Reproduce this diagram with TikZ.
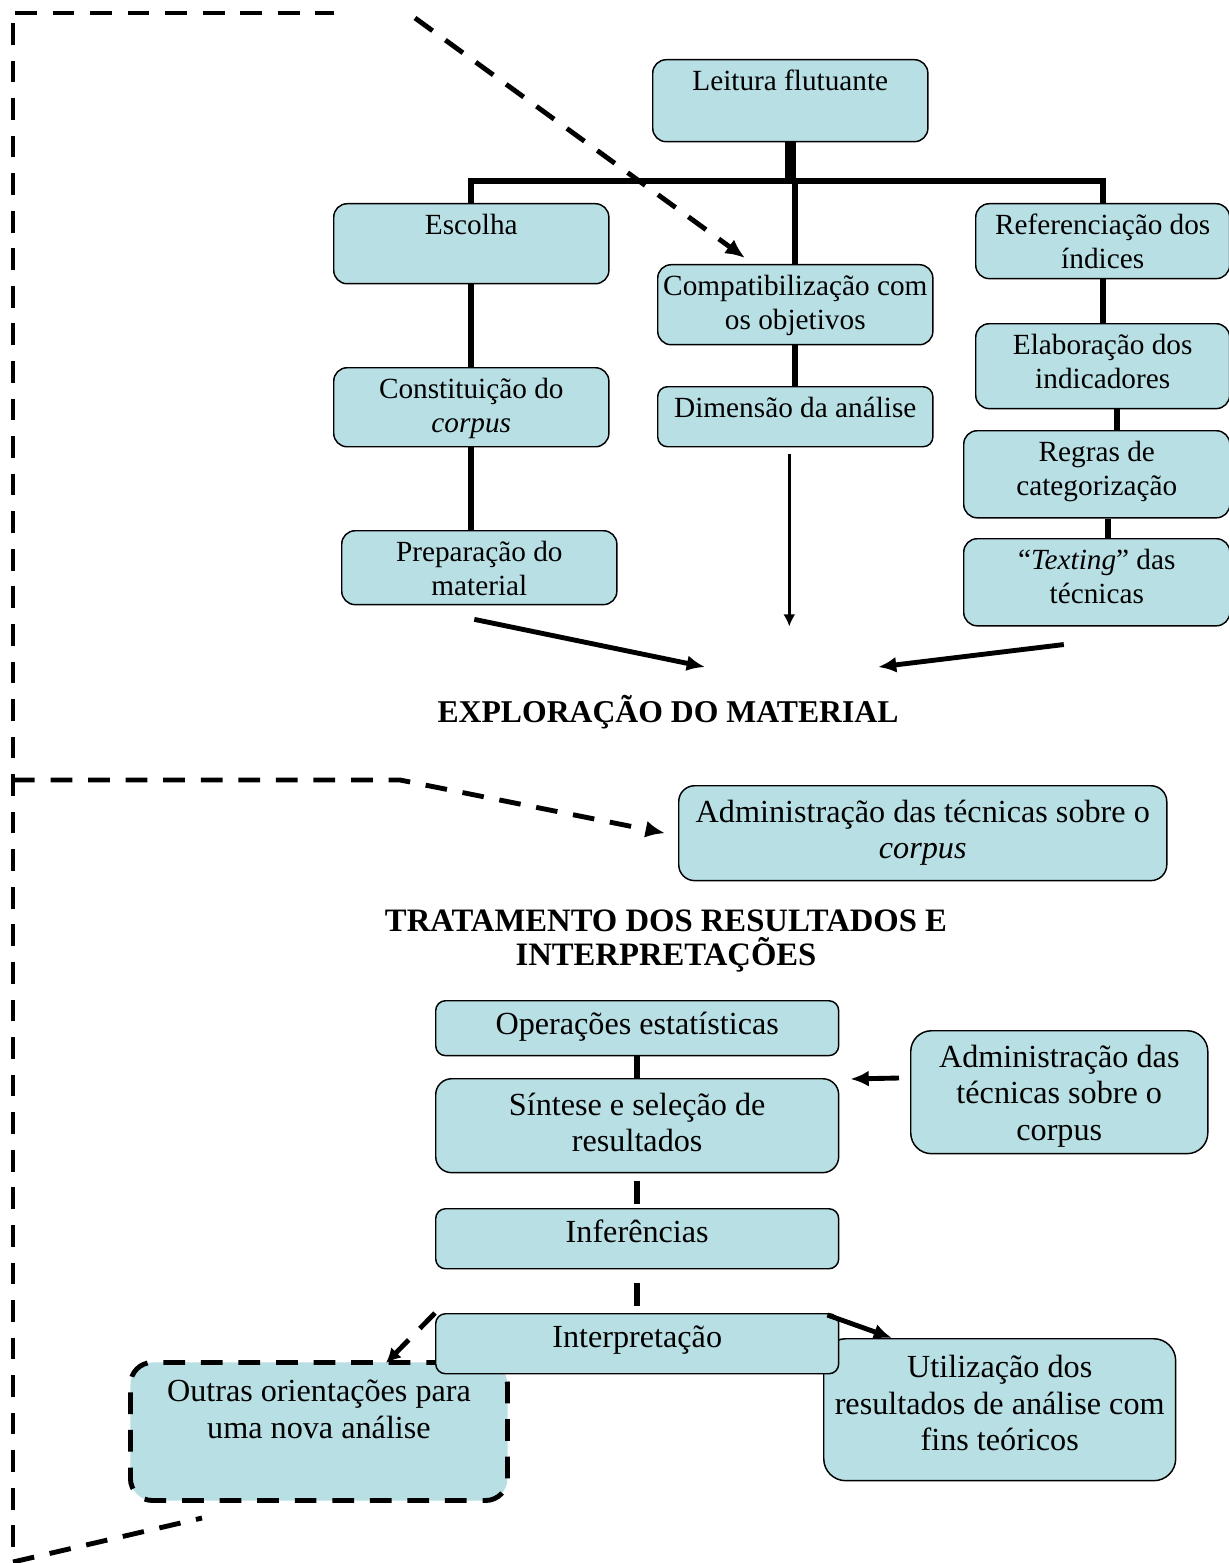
\documentclass[tikz,border=0pt]{standalone}
\usepackage{fontspec}
\setmainfont{Liberation Serif}
\usetikzlibrary{arrows.meta}
\definecolor{boxcyan}{RGB}{184,223,228}

\begin{document}
\begin{tikzpicture}[x=0.41pt,y=-0.41pt]

  \useasboundingbox (0,0) rectangle (1229,1563);

  % node styles
  \tikzstyle{Box}=[
  anchor=north west,
  draw,line width=0.6pt,
  fill=boxcyan,
  font=\fontsize{12}{14}\selectfont,
  align=flush center,
  text height=12.7pt,
  inner sep=0pt,
  shape=rectangle,rounded corners=5.5pt]

  \tikzstyle{BigBox}=[Box,font=\fontsize{13.2}{15}\selectfont,text height=15pt]

  \tikzstyle{Head}=[font=\fontsize{13}{13.5}\selectfont\bfseries,align=center]

  % line styles
  \tikzstyle{Link}=[line width=2.5pt]
  \tikzstyle{Stem}=[line width=4.6pt]
  \tikzstyle{Arrow}=[line width=2pt,-{Latex[length=7.5pt,width=6.5pt]}]
  \tikzstyle{Thin}=[line width=1.2pt,-{Latex[length=5pt,width=5pt]}]
  \tikzstyle{DashLine}=[line width=2pt,dash pattern=on 8.9pt off 6.5pt]

  \node[Box,text width=112.8pt,text depth=20.9pt] (L)  at (652,59)  {Leitura flutuante};

  \node[Box,text width=112.8pt,text depth=20.1pt] (E1) at (333,203) {Escolha};
  \node[Box,text width=112.8pt,text depth=19.7pt] (E2) at (333,367) {Constituição do\\\textit{corpus}};
  \node[Box,text width=112.8pt,text depth=17.6pt] (E3) at (341,530) {Preparação do\\material};

  \node[Box,text width=112.8pt,text depth=20.1pt] (C1) at (657,264) {Compatibilização com\\os objetivos};
  \node[Box,text width=112.8pt,text depth=11.9pt,rounded corners=4pt] (C2) at (657,386) {Dimensão da análise};

  \node[Box,text width=104.1pt,text depth=18.0pt] (R1) at (975,203) {Referenciação dos\\índices};
  \node[Box,text width=104.1pt,text depth=22.1pt] (R2) at (975,323) {Elaboração dos\\indicadores};
  \node[Box,text width=109.1pt,text depth=23.0pt] (R3) at (963,430) {Regras de\\categorização};
  \node[Box,text width=109.1pt,text depth=23.0pt] (R4) at (963,538) {“\textit{Texting}” das\\técnicas};

  \node[Head] (M1) at (668,712) {EXPLORAÇÃO DO MATERIAL};

  \node[BigBox,text width=200.1pt,text depth=23.9pt,rounded corners=6.5pt] (A) at (678,785) {Administração das técnicas sobre o\\\textit{corpus}};

  \node[Head,font=\fontsize{13.4}{13.6}\selectfont\bfseries] (M2) at (666,941) {TRATAMENTO DOS RESULTADOS E\\INTERPRETAÇÕES};

  \node[BigBox,text width=165.2pt,text height=14pt,text depth=8.5pt,rounded corners=4pt] (B1) at (435,1000) {Operações estatísticas};
  \node[BigBox,text width=165.2pt,text depth=23.5pt,rounded corners=6.5pt] (B2) at (435,1078) {Síntese e seleção de\\resultados};
  \node[BigBox,text width=165.2pt,text height=14pt,text depth=10.6pt,rounded corners=4pt] (B3) at (435,1208) {Inferências};
  \node[BigBox,text width=121.8pt,text depth=35.4pt,rounded corners=8.5pt] (S) at (910,1030) {Administração das\\técnicas sobre o\\corpus};

  \node[BigBox,DashLine,text width=154.6pt,text height=16pt,text depth=40.6pt,rounded corners=9pt] (O) at (128,1360) {Outras orientações para\\uma nova análise};
  \node[BigBox,text width=144.3pt,text height=16pt,text depth=42.2pt,rounded corners=9pt] (U) at (823,1338) {Utilização dos\\resultados de análise com\\fins teóricos};
  \node[BigBox,text width=165.2pt,text height=14pt,text depth=10.6pt,rounded corners=4pt] (B4) at (435,1313) {Interpretação};

  % tree
  \coordinate (X) at (792,181);
  \draw[Stem] (L.south) -- (L.south |- X);
  \draw[Link] (E1.north) |- (X) -| (R1.north);
  \draw[Link] (C1.north) -- (C1.north |- X);

  \draw[Link] (E1.south) -- (E2.north);
  \draw[Link] (E2.south) -- (E2.south |- E3.north);
  \draw[Link] (C1.south) -- (C2.north);
  \draw[Link] (R1.south) -- (R2.north);
  \draw[Link] ([shift={(14,0)}]R2.south) -- ([shift={(14,0)}]R2.south |- R3.north);
  \draw[Link] ([shift={(11,0)}]R3.south) -- ([shift={(11,0)}]R3.south |- R4.north);

  \draw[Thin] ([shift={(-6,7)}]C2.south) -- ([shift={(-6,179)}]C2.south);
  \draw[Arrow] ([shift={(-5,14)}]E3.south) -- ([shift={(37,-45)}]M1.center);
  \draw[Arrow] ([shift={(-33,18)}]R4.south) -- ([shift={(210,-45)}]M1.center);

  % dashed frame
  \draw[DashLine] (15,13) -- (334,13);
  \draw[DashLine] (13,23) -- (13,1563);
  \draw[DashLine,-{Latex[length=8pt,width=7pt]}] (415,18) -- ([shift={(88,-6)}]C1.north west);
  \draw[DashLine,-{Latex[length=8pt,width=7pt]}] (13,780) -- (400,780) -- ([shift={(-13,0)}]A.west);
  \draw[DashLine] (13,1562) -- (202,1518);

  % lower column
  \draw[Link] (B1.south) -- (B2.north);
  \draw[Link,dash pattern=on 9.4pt off 6pt,dash phase=12.1pt] (B2.south) -- (B3.north);
  \draw[Link,dash pattern=on 9.4pt off 6pt,dash phase=9.7pt] (B3.south) -- (B4.north);
  \draw[Arrow] ([shift={(-11,48)}]S.north west) -- ([shift={(11,0)}]B2.north east |- 0,1079);
  \draw[DashLine,-{Latex[length=6pt,width=6pt]}] (B4.north west) -- ([shift={(258,3)}]O.north west);
  \draw[Arrow] ([shift={(-12,2)}]B4.north east) -- ([shift={(69,0)}]U.north west);

\end{tikzpicture}
\end{document}
